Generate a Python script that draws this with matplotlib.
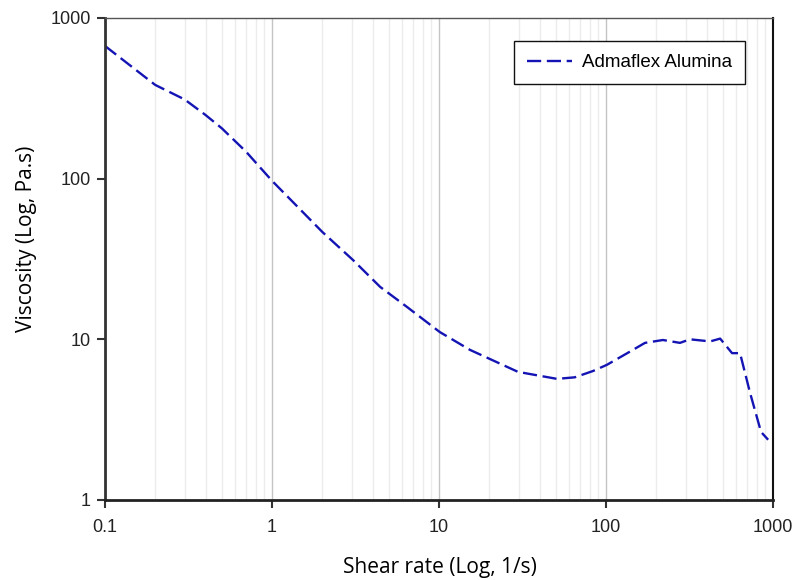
import matplotlib
matplotlib.use("Agg")
import matplotlib.pyplot as plt
from matplotlib.ticker import FixedLocator, LogLocator, NullFormatter, FixedFormatter

# donnees
shear_rate = [0.1, 0.2, 0.3, 0.4, 0.5, 0.7, 1.0, 2.0, 3.05, 4.44, 6.43, 10.1, 15.3,
              29.7, 50.9, 65, 83.6, 101, 134, 171, 219, 277, 318, 420, 482,
              568, 634, 728, 847, 934]
viscosity = [670, 383, 311, 249, 206, 147, 97, 46.6, 31.2, 21.2, 15.9, 11.1, 8.6,
             6.27, 5.67, 5.8, 6.35, 6.93, 8.2, 9.5, 9.9, 9.5, 10.0, 9.7, 10.1,
             8.2, 8.2, 4.64, 2.65, 2.37]
x_ticks = [0.1, 1, 10, 100, 1000]
x_labels = ["0.1", "1", "10", "100", "1000"]
y_ticks = [1, 10, 100, 1000]
y_labels = ["1", "10", "100", "1000"]

fig = plt.figure(figsize=(7.97, 5.80), dpi=100)
ax = fig.add_axes([0.1317, 0.138, 0.8383, 0.831])

ax.plot(shear_rate, viscosity, color="#1414b4", lw=1.7, dashes=(6.0, 2.4),
        label="Admaflex Alumina")

ax.set_xscale("log")
ax.set_yscale("log")
ax.set_xlim(0.1, 1000)
ax.set_ylim(1, 1000)

ax.xaxis.set_major_locator(FixedLocator(x_ticks))
ax.xaxis.set_major_formatter(FixedFormatter(x_labels))
ax.xaxis.set_minor_locator(LogLocator(base=10, subs=range(2, 10)))
ax.xaxis.set_minor_formatter(NullFormatter())
ax.yaxis.set_major_locator(FixedLocator(y_ticks))
ax.yaxis.set_major_formatter(FixedFormatter(y_labels))
ax.yaxis.set_minor_locator(FixedLocator([]))

ax.grid(True, which="major", axis="x", color="#c4c4c4", lw=1.0)
ax.grid(True, which="minor", axis="x", color="#ececec", lw=1.0)
ax.set_axisbelow(True)

ax.tick_params(which="major", direction="out", length=6, width=1.5, color="#333333",
               labelsize=13, pad=4)
ax.tick_params(axis="x", which="major", pad=8)
ax.tick_params(which="minor", length=0)
for lab in ax.get_xticklabels() + ax.get_yticklabels():
    lab.set_family("Liberation Sans")
    lab.set_color("#222222")

ax.spines["left"].set_linewidth(2)
ax.spines["left"].set_color("#333333")
ax.spines["bottom"].set_linewidth(2)
ax.spines["bottom"].set_color("#222222")
ax.spines["top"].set_linewidth(1)
ax.spines["top"].set_color("#555555")
ax.spines["right"].set_linewidth(1.5)
ax.spines["right"].set_color("#111111")

ax.set_xlabel("Shear rate (Log, 1/s)", family="Open Sans", fontsize=15)
ax.set_ylabel("Viscosity (Log, Pa.s)", family="Open Sans", fontsize=15)
ax.yaxis.label.set_verticalalignment("center")
ax.xaxis.label.set_verticalalignment("center")
ax.yaxis.set_label_coords(27 / 797, 1 - 239 / 580, transform=fig.transFigure)
ax.xaxis.set_label_coords(440 / 797, 1 - 567 / 580, transform=fig.transFigure)

leg = ax.legend(loc="upper right", bbox_to_anchor=(0.958, 0.952), fancybox=False,
                framealpha=1, edgecolor="#111111", borderpad=0.7, handlelength=2.4,
                handletextpad=0.5, borderaxespad=0,
                prop={"family": "Liberation Sans", "size": 13.5})
leg.get_frame().set_linewidth(1.0)

fig.savefig("out.png", dpi=100)
